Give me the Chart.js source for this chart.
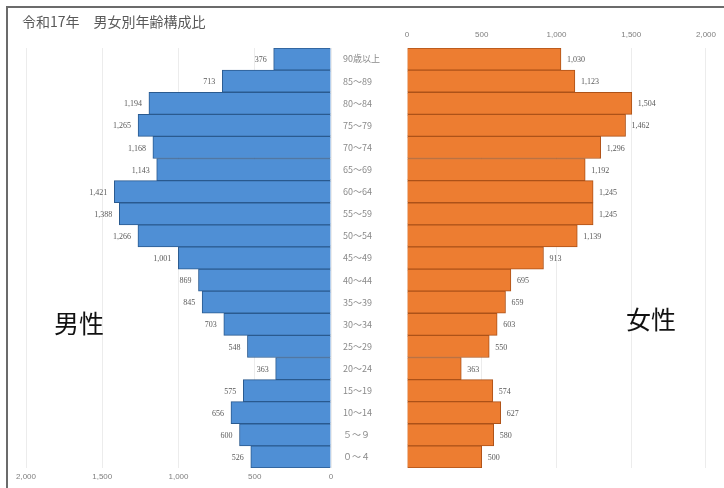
<!DOCTYPE html>
<html><head><meta charset="utf-8">
<script src="https://cdn.jsdelivr.net/npm/chart.js@4.4.0/dist/chart.umd.min.js"></script>
<style>
html,body{margin:0;padding:0;background:#fff;width:724px;height:488px;overflow:hidden;font-family:"Noto Sans CJK JP","Noto Sans",sans-serif;}
#frame{position:absolute;left:6px;top:6px;width:740px;height:500px;border-left:2px solid #6b6b6b;border-top:2px solid #6b6b6b;}
#title{position:absolute;left:22px;top:11px;font-size:14px;color:#595959;white-space:pre;}
.sex{position:absolute;font-size:25px;color:#111;}
canvas{position:absolute;top:0;}
</style></head>
<body>
<div id="frame"></div>
<canvas id="male" width="340" height="488" style="left:0"></canvas>
<canvas id="female" width="389" height="488" style="left:335px"></canvas>
<div id="title">令和17年　男女別年齢構成比</div>
<div class="sex" style="left:54px;top:304px;">男性</div>
<div class="sex" style="left:626px;top:300px;">女性</div>
<script>
const ageGroups = ["90歳以上","85～89","80～84","75～79","70～74","65～69","60～64","55～59","50～54","45～49","40～44","35～39","30～34","25～29","20～24","15～19","10～14","５～９","０～４"];
const maleValues = [376,713,1194,1265,1168,1143,1421,1388,1266,1001,869,845,703,548,363,575,656,600,526];
const femaleValues = [1030,1123,1504,1462,1296,1192,1245,1245,1139,913,695,659,603,550,363,574,627,580,500];
const axisTicks = [0,500,1000,1500,2000];

const fmt = v => Number(v).toLocaleString('en-US');
const tickFont = {family:"Liberation Sans, sans-serif", size:8};
const gridColor = '#ececec';

function labelPlugin(side){
  return {
    id:'vals'+side,
    afterDatasetsDraw(chart){
      const ctx = chart.ctx;
      const meta = chart.getDatasetMeta(0);
      const data = chart.data.datasets[0].data;
      ctx.save();
      ctx.font = '8px "Liberation Serif", serif';
      ctx.fillStyle = '#595959';
      ctx.textBaseline = 'middle';
      meta.data.forEach((el,i)=>{
        if(side==='L'){ctx.textAlign='right';ctx.fillText(fmt(data[i]), el.x-7, el.y+1);}
        else {ctx.textAlign='left';ctx.fillText(fmt(data[i]), el.x+6, el.y+1);}
      });
      ctx.restore();
    }
  };
}

new Chart(document.getElementById('male'),{
  type:'bar',
  data:{labels:ageGroups,datasets:[{data:maleValues,backgroundColor:'#4f8fd5',borderColor:'#2a5a8f',borderWidth:1,categoryPercentage:1,barPercentage:1}]},
  options:{
    indexAxis:'y',responsive:false,animation:false,devicePixelRatio:1,
    layout:{padding:{left:26,right:9,top:48,bottom:0}},
    plugins:{legend:{display:false},tooltip:{enabled:false}},
    scales:{
      x:{position:'bottom',reverse:true,min:0,max:2000,
         afterBuildTicks:s=>{s.ticks=axisTicks.map(v=>({value:v}));},
         afterFit:s=>{s.height=20;},
         grid:{color:gridColor,drawTicks:false},border:{display:false},
         ticks:{padding:4,font:tickFont,color:'#7f7f7f',maxRotation:0,callback:v=>fmt(v)}},
      y:{display:false}
    }
  },
  plugins:[labelPlugin('L')]
});

new Chart(document.getElementById('female'),{
  type:'bar',
  data:{labels:ageGroups,datasets:[{data:femaleValues,backgroundColor:'#ed7d31',borderColor:'#ad5218',borderWidth:1,categoryPercentage:1,barPercentage:1}]},
  options:{
    indexAxis:'y',responsive:false,animation:false,devicePixelRatio:1,
    layout:{padding:{left:8,right:12,top:0,bottom:20}},
    plugins:{legend:{display:false},tooltip:{enabled:false}},
    scales:{
      x:{position:'top',min:0,max:2000,
         afterBuildTicks:s=>{s.ticks=axisTicks.map(v=>({value:v}));},
         afterFit:s=>{s.height=48;},
         grid:{color:gridColor,drawTicks:false},border:{display:false},
         ticks:{padding:8,font:tickFont,color:'#7f7f7f',maxRotation:0,callback:v=>fmt(v)}},
      y:{position:'left',afterFit:s=>{s.width=64;},
         grid:{display:false,drawTicks:false},border:{display:false},
         ticks:{crossAlign:'far',padding:0,font:{family:"Noto Sans CJK JP",size:9},color:'#8a8a8a',autoSkip:false}}
    }
  },
  plugins:[labelPlugin('R')]
});
</script>
</body></html>
